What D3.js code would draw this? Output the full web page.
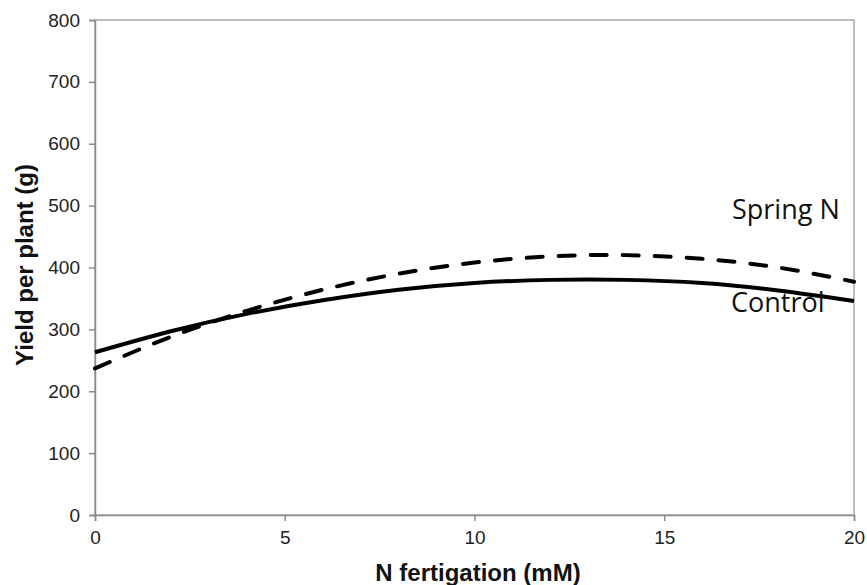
<!DOCTYPE html>
<html>
  <head>
    <meta charset="utf-8">
    <title>Yield per plant vs N fertigation</title>
    <script src="https://d3js.org/d3.v7.min.js"></script>
    <style>
      body { margin: 0; background: #fff; }
      .tick line, .domain { stroke: #8c8c8c; stroke-width: 1.5; }
      .tick text { font-family: "Liberation Sans", Arial, sans-serif; fill: #222; }
      .axis-title { font-family: "Liberation Sans", Arial, sans-serif; font-weight: bold; font-size: 24px; fill: #111; }
      .series-label { font-family: "Open Sans", "Liberation Sans", sans-serif; font-size: 27px; fill: #111; }
    </style>
  </head>
  <body>
    <svg width="867" height="585"></svg>
    <script>
      // values, every 2 mM
      var nLevels = [0, 2, 4, 6, 8, 10, 12, 14, 16, 18, 20];
      var controlYield = [263, 297, 325, 347, 364, 375, 380, 380, 375, 363, 346];
      var springYield = [237, 288, 330, 364, 390, 408, 418, 420, 414, 400, 377];
      var xTicks = [0, 5, 10, 15, 20];
      var yTicks = [0, 100, 200, 300, 400, 500, 600, 700, 800];

      var margin = {top: 20, right: 13, bottom: 70, left: 95},
          width = 867 - margin.left - margin.right,
          height = 585 - margin.top - margin.bottom;

      var svg = d3.select("svg")
        .append("g")
          .attr("transform", "translate(" + margin.left + "," + margin.top + ")");

      var x = d3.scaleLinear().domain([0, 20]).range([0, width]);
      var y = d3.scaleLinear().domain([0, 800]).range([height, 0]);

      // frame
      svg.append("rect")
          .attr("width", width)
          .attr("height", height)
          .attr("fill", "none")
          .attr("stroke", "#a8a8a8")
          .attr("stroke-width", 1.5);

      svg.append("g")
          .attr("transform", "translate(0," + height + ")")
          .call(d3.axisBottom(x).tickValues(xTicks).tickSize(6).tickPadding(10))
          .attr("font-size", 19)
          .attr("font-family", null);

      svg.append("g")
          .call(d3.axisLeft(y).tickValues(yTicks).tickSize(6).tickPadding(9))
          .attr("font-size", 19)
          .attr("font-family", null);

      var line = d3.line()
          .x(function(d) { return x(d[0]); })
          .y(function(d) { return y(d[1]); })
          .curve(d3.curveNatural);

      svg.append("path")
          .datum(nLevels.map(function(n, i) { return [n, controlYield[i]]; }))
          .attr("fill", "none")
          .attr("stroke", "#000")
          .attr("stroke-width", 4)
          .attr("d", line);

      svg.append("path")
          .datum(nLevels.map(function(n, i) { return [n, springYield[i]]; }))
          .attr("fill", "none")
          .attr("stroke", "#000")
          .attr("stroke-width", 4)
          .attr("stroke-linecap", "round")
          .attr("stroke-dasharray", "16,16")
          .attr("d", line);

      svg.append("text")
          .attr("class", "series-label")
          .attr("x", 732 - margin.left)
          .attr("y", 219 - margin.top)
          .text("Spring N");

      svg.append("text")
          .attr("class", "series-label")
          .attr("x", 731 - margin.left)
          .attr("y", 312 - margin.top)
          .text("Control");

      svg.append("text")
          .attr("class", "axis-title")
          .attr("text-anchor", "middle")
          .attr("x", 478 - margin.left)
          .attr("y", 581 - margin.top)
          .text("N fertigation (mM)");

      svg.append("text")
          .attr("class", "axis-title")
          .attr("text-anchor", "middle")
          .attr("transform", "translate(" + (33 - margin.left) + "," + (265 - margin.top) + ") rotate(-90)")
          .text("Yield per plant (g)");
    </script>
  </body>
</html>
